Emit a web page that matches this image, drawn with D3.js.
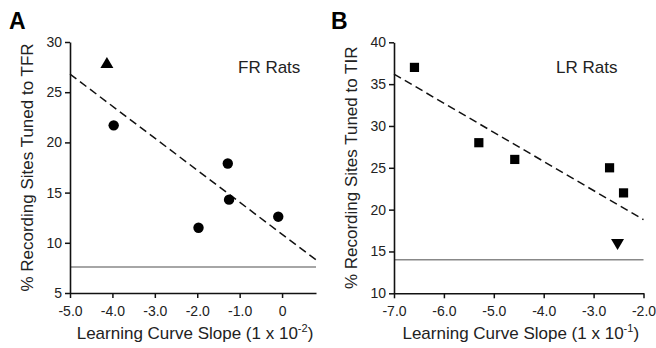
<!DOCTYPE html>
<html>
<head>
<meta charset="utf-8">
<script src="https://cdn.jsdelivr.net/npm/d3@7"></script>
<style>
  body { margin: 0; background: #fff; }
  svg { font-family: "Liberation Sans", Arial, sans-serif; }
</style>
</head>
<body>
<svg id="chart" width="656" height="348"></svg>
<script>
// Panel A - FR rats
const frCircles = [
  { x: -3.97, y: 21.7 },
  { x: -1.28, y: 17.9 },
  { x: -1.25, y: 14.3 },
  { x: -1.97, y: 11.5 },
  { x: -0.09, y: 12.6 }
];
const frTriangles = [{ x: -4.13, y: 27.9 }];
const frFit = [{ x: -5.0, y: 26.8 }, { x: 0.8, y: 8.3 }];
const frChance = 7.6;
const frXTicks = [-5, -4, -3, -2, -1, 0];
const frXLabels = ['-5.0', '-4.0', '-3.0', '-2.0', '-1.0', '0'];
const frYTicks = [5, 10, 15, 20, 25, 30];

// Panel B - LR rats
const lrSquares = [
  { x: -6.59, y: 37.0 },
  { x: -5.30, y: 28.0 },
  { x: -4.58, y: 26.0 },
  { x: -2.68, y: 25.0 },
  { x: -2.40, y: 22.0 }
];
const lrTriangles = [{ x: -2.52, y: 15.9 }];
const lrFit = [{ x: -7.0, y: 36.2 }, { x: -2.0, y: 18.8 }];
const lrChance = 14.0;
const lrXTicks = [-7, -6, -5, -4, -3, -2];
const lrXLabels = ['-7.0', '-6.0', '-5.0', '-4.0', '-3.0', '-2.0'];
const lrYTicks = [10, 15, 20, 25, 30, 35, 40];

const svg = d3.select('#chart');

function drawPanel(p) {
  const g = svg.append('g');
  const x = d3.scaleLinear().domain(p.xDomain).range([p.left, p.right]);
  const y = d3.scaleLinear().domain(p.yDomain).range([p.bottom, p.top]);

  // panel letter
  g.append('text')
    .attr('x', p.letterX).attr('y', 29)
    .style('font-size', '23px').style('font-weight', 'bold')
    .text(p.letter);

  // chance line
  g.append('line')
    .attr('x1', x(p.xDomain[0])).attr('x2', x(p.xDomain[1]))
    .attr('y1', y(p.chance)).attr('y2', y(p.chance))
    .attr('stroke', '#888').attr('stroke-width', 1.5);

  // regression line
  g.append('path')
    .datum(p.fit)
    .attr('d', d3.line().x(d => x(d.x)).y(d => y(d.y)))
    .attr('fill', 'none').attr('stroke', '#111')
    .attr('stroke-width', 1.5).attr('stroke-dasharray', '8,4.5');

  // axes
  const xAxis = g.append('g')
    .attr('transform', 'translate(0,' + p.bottom + ')')
    .call(d3.axisBottom(x).tickValues(p.xTicks)
      .tickFormat((d, i) => p.xLabels[i]).tickSize(5).tickSizeOuter(0));
  const yAxis = g.append('g')
    .attr('transform', 'translate(' + p.left + ',0)')
    .call(d3.axisLeft(y).tickValues(p.yTicks).tickSize(5).tickSizeOuter(0));
  [xAxis, yAxis].forEach(a => {
    a.select('.domain').attr('stroke', '#111').attr('stroke-width', 1.6);
    a.selectAll('.tick line').attr('stroke', '#111').attr('stroke-width', 1.5);
    a.selectAll('.tick text')
      .style('font-size', '14px').style('font-family', '"Liberation Sans", Arial, sans-serif')
      .attr('fill', '#222');
  });
  xAxis.selectAll('.tick text').attr('dy', '1.05em');
  yAxis.selectAll('.tick text').attr('x', -8);

  // markers
  g.selectAll('circle.pt').data(p.circles).join('circle')
    .attr('class', 'pt')
    .attr('cx', d => x(d.x)).attr('cy', d => y(d.y)).attr('r', 5.2)
    .attr('fill', '#000');
  g.selectAll('rect.pt').data(p.squares).join('rect')
    .attr('class', 'pt')
    .attr('x', d => x(d.x) - 4.6).attr('y', d => y(d.y) - 4.6)
    .attr('width', 9.2).attr('height', 9.2)
    .attr('fill', '#000');
  g.selectAll('path.up').data(p.upTriangles).join('path')
    .attr('class', 'up')
    .attr('transform', d => 'translate(' + x(d.x) + ',' + y(d.y) + ')')
    .attr('d', 'M0,-6L6.5,5L-6.5,5Z').attr('fill', '#000');
  g.selectAll('path.down').data(p.downTriangles).join('path')
    .attr('class', 'down')
    .attr('transform', d => 'translate(' + x(d.x) + ',' + y(d.y) + ')')
    .attr('d', 'M0,6L6.5,-5L-6.5,-5Z').attr('fill', '#000');

  // group label
  g.append('text')
    .attr('x', p.groupX).attr('y', 73)
    .style('font-size', '17px').attr('fill', '#222')
    .text(p.group);

  // y title
  g.append('text')
    .attr('transform', 'translate(' + p.yTitleX + ',' + ((p.top + p.bottom) / 2) + ') rotate(-90)')
    .attr('text-anchor', 'middle')
    .style('font-size', '17px').attr('fill', '#222')
    .text(p.yTitle);

  // x title with superscript exponent
  const xt = g.append('text')
    .attr('x', (p.left + p.right) / 2 + 2).attr('y', 339)
    .attr('text-anchor', 'middle')
    .style('font-size', '17px').attr('fill', '#222');
  xt.append('tspan').text('Learning Curve Slope (1 x 10');
  xt.append('tspan').attr('dy', -7).style('font-size', '11px').text(p.exponent);
  xt.append('tspan').attr('dy', 7).text(')');
}

drawPanel({
  letter: 'A', letterX: 9,
  left: 70, right: 316, top: 42, bottom: 293,
  xDomain: [-5, 0.8], yDomain: [5, 30],
  xTicks: frXTicks, xLabels: frXLabels, yTicks: frYTicks,
  circles: frCircles, squares: [], upTriangles: frTriangles, downTriangles: [],
  fit: frFit, chance: frChance,
  group: 'FR Rats', groupX: 238,
  yTitle: '% Recording Sites Tuned to TFR', yTitleX: 33,
  exponent: '-2'
});

drawPanel({
  letter: 'B', letterX: 331,
  left: 394, right: 643.5, top: 42.3, bottom: 293.3,
  xDomain: [-7, -2], yDomain: [10, 40],
  xTicks: lrXTicks, xLabels: lrXLabels, yTicks: lrYTicks,
  circles: [], squares: lrSquares, upTriangles: [], downTriangles: lrTriangles,
  fit: lrFit, chance: lrChance,
  group: 'LR Rats', groupX: 556,
  yTitle: '% Recording Sites Tuned to TIR', yTitleX: 357,
  exponent: '-1'
});
</script>
</body>
</html>
